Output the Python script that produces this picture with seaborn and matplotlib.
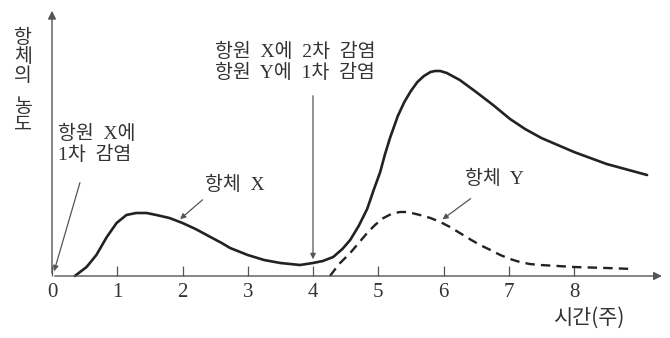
import numpy as np
import pandas as pd
import matplotlib
matplotlib.use("Agg")
import matplotlib.pyplot as plt
import seaborn as sns

# values (weeks, concentration in arbitrary units)
weeks_x = [0.35, 0.53, 0.68, 0.84, 0.99, 1.14, 1.29, 1.45, 1.6, 1.8, 2.0, 2.2, 2.4, 2.6,
           2.73, 3.0, 3.25, 3.5, 3.8, 4.0, 4.15, 4.31, 4.45, 4.57, 4.7, 4.83, 4.93, 5.03,
           5.1, 5.18, 5.3, 5.4, 5.5, 5.6, 5.7, 5.8, 5.87, 5.95, 6.05, 6.25, 6.5, 6.76,
           7.02, 7.25, 7.5, 8.0, 8.5, 9.12]
conc_x = [0, 9, 21, 39, 53, 61, 63, 63, 61, 58, 53, 47, 40, 33,
          28, 21, 16, 13, 11, 13, 15, 19, 27, 36, 50, 67, 86, 104,
          121, 138, 160, 174, 185, 194, 200, 204, 205, 205, 203, 196, 184, 171,
          157, 147, 138, 124, 112, 101]

weeks_y = [4.26, 4.4, 4.57, 4.7, 4.83, 4.95, 5.08, 5.2, 5.33, 5.45, 5.64, 5.8, 5.95,
           6.1, 6.25, 6.4, 6.56, 6.72, 6.87, 7.02, 7.17, 7.32, 7.48, 7.75, 8.0, 8.5, 8.9]
conc_y = [0, 12, 23, 33, 43, 51, 58, 62, 64, 64, 61, 58, 54,
          49, 43, 37, 31, 26, 21, 17, 14, 12, 11, 10, 9, 8, 7]

tick_weeks = [0, 1, 2, 3, 4, 5, 6, 7, 8]

sns.set_style("white")
plt.rcParams["font.family"] = ["Liberation Serif", "Noto Sans CJK KR", "DejaVu Sans"]
mixed = ["Liberation Serif", "Noto Sans CJK KR"]
txt = "#333333"
grey = "#555555"
fs = 14

fig = plt.figure(figsize=(6.7, 3.38), dpi=100)
ax = fig.add_axes([0, 0, 1, 1])
ax.set_xlim(-52 / 65.25, (670 - 52) / 65.25)
ax.set_ylim(-62, 276)

df_x = pd.DataFrame({"week": weeks_x, "conc": conc_x})
df_y = pd.DataFrame({"week": weeks_y, "conc": conc_y})
sns.lineplot(data=df_x, x="week", y="conc", ax=ax, color="#222222", linewidth=1.9,
             sort=False, solid_joinstyle="round")
sns.lineplot(data=df_y, x="week", y="conc", ax=ax, color="#222222", linewidth=1.7,
             sort=False, linestyle=(0, (4, 2.6)))

# axes with arrow heads
for s in ax.spines.values():
    s.set_visible(False)
ax.spines["bottom"].set_position(("data", 0))
ax.annotate("", xy=(9.39, 0), xytext=(0, 0),
            arrowprops=dict(arrowstyle="-|>", color=grey, lw=1.0, mutation_scale=12))
ax.annotate("", xy=(0, 268), xytext=(0, 0),
            arrowprops=dict(arrowstyle="-|>", color=grey, lw=1.0, mutation_scale=12))

ax.set_xticks(tick_weeks)
ax.set_xticklabels([str(t) for t in tick_weeks], family="Liberation Serif",
                   fontsize=15, color=txt)
ax.tick_params(axis="x", direction="in", length=7, width=0.9, color=grey, pad=5,
               bottom=True)
ax.set_yticks([])
ax.set_xlabel("")
ax.set_ylabel("")

# stacked y label
ax.text(-29 / 65.25, 219, "항\n체\n의", family=mixed, fontsize=fs, color=txt,
        ha="center", va="center", linespacing=1.1)
ax.text(-29 / 65.25, 160, "농\n도", family=mixed, fontsize=fs, color=txt,
        ha="center", va="center", linespacing=1.1)
ax.text(8.23, -42, "시간(주)", family=["Noto Sans CJK KR"], fontsize=15, color=txt,
        ha="center", va="center")

arrow = dict(arrowstyle="-|>", color=grey, lw=0.9, mutation_scale=8)
ax.text(0.09, 151, "항원  X에\n1차  감염", family=mixed, fontsize=fs, color=txt,
        ha="left", va="top", linespacing=1.2)
ax.annotate("", xy=(0.02, 2), xytext=(0.44, 96), arrowprops=arrow)

ax.text(2.50, 214, "항원  X에  2차  감염\n항원  Y에  1차  감염", family=mixed, fontsize=fs,
        color=txt, ha="left", va="center", linespacing=1.2)
ax.annotate("", xy=(4.0, 14), xytext=(4.0, 183), arrowprops=arrow)

ax.text(2.34, 91, "항체  X", family=mixed, fontsize=fs, color=txt, ha="left", va="center")
ax.annotate("", xy=(1.93, 55), xytext=(2.34, 78), arrowprops=arrow)

ax.text(6.33, 97, "항체  Y", family=mixed, fontsize=fs, color=txt, ha="left", va="center")
ax.annotate("", xy=(5.95, 55), xytext=(6.45, 79), arrowprops=arrow)

fig.savefig("out.png", dpi=100)
